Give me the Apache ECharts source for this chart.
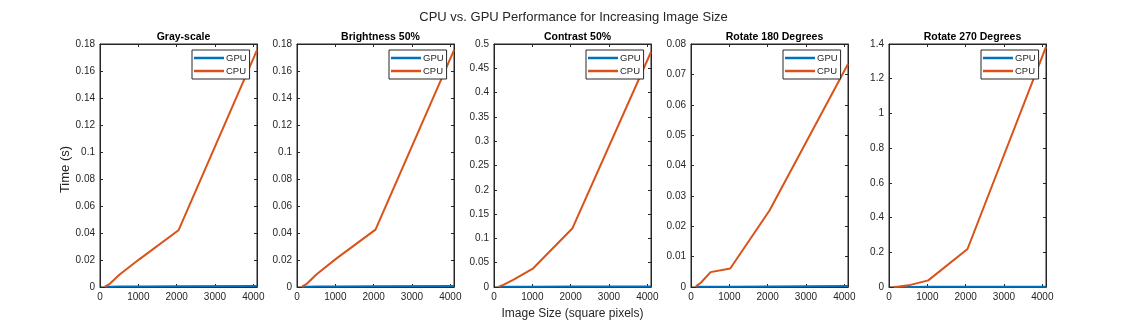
<!DOCTYPE html>
<html>
<head>
<meta charset="utf-8">
<script src="https://cdn.jsdelivr.net/npm/echarts@6/dist/echarts.min.js"></script>
<style>
  html, body { margin: 0; padding: 0; background: #fff; }
  #chart { width: 1147px; height: 328px; }
</style>
</head>
<body>
<div id="chart"></div>
<script>
// Image sizes (square pixels) measured for each operation
const sizes = [128, 256, 512, 1024, 2048, 4096];
const xTicks = [0, 1000, 2000, 3000, 4000];

const panelTitles = ['Gray-scale', 'Brightness 50%', 'Contrast 50%', 'Rotate 180 Degrees', 'Rotate 270 Degrees'];

// Run times in seconds
const grayGPU     = [0.0002, 0.0002, 0.0003, 0.0003, 0.0005, 0.0008];
const grayCPU     = [0.0003, 0.0024, 0.0093, 0.0205, 0.0420, 0.1755];
const brightGPU   = [0.0002, 0.0002, 0.0003, 0.0003, 0.0005, 0.0008];
const brightCPU   = [0.0003, 0.0024, 0.0095, 0.0210, 0.0425, 0.1755];
const contrastGPU = [0.0003, 0.0003, 0.0004, 0.0005, 0.0008, 0.0012];
const contrastCPU = [0.0008, 0.0050, 0.0150, 0.0385, 0.1210, 0.4835];
const rot180GPU   = [0.0001, 0.0001, 0.0001, 0.0001, 0.0002, 0.0003];
const rot180CPU   = [0.0002, 0.0014, 0.0049, 0.0061, 0.0252, 0.0734];
const rot270GPU   = [0.0005, 0.0005, 0.0006, 0.0008, 0.0012, 0.0020];
const rot270CPU   = [0.0005, 0.0030, 0.0095, 0.0380, 0.2190, 1.3840];

// y-axis ranges per panel: [max, interval]
const yMax      = [0.18, 0.18, 0.5, 0.08, 1.4];
const yInterval = [0.02, 0.02, 0.05, 0.01, 0.2];
const xMax = 4096;

const gpuSets = [grayGPU, brightGPU, contrastGPU, rot180GPU, rot270GPU];
const cpuSets = [grayCPU, brightCPU, contrastCPU, rot180CPU, rot270CPU];

const GPU_COLOR = '#0072BD';
const CPU_COLOR = '#D95319';
const AXIS_COLOR = '#262626';
const FONT = 'Liberation Sans, Arial, Helvetica, sans-serif';

const lefts = [100, 297, 494, 691, 889];
const plotW = 157;
const plotTop = 44;
const plotBottom = 287;
const TICK_LEN = 3;

const grids = [], xAxes = [], yAxes = [], series = [], titles = [], legends = [];

titles.push({
  text: 'CPU vs. GPU Performance for Increasing Image Size',
  left: 'center', top: 6,
  textStyle: { fontFamily: FONT, fontSize: 13, fontWeight: 'normal', color: AXIS_COLOR }
});

const pair = (xs, ys) => xs.map((x, i) => [x, ys[i]]);
const fmt = v => String(+(+v).toFixed(4));
const line = { show: true, onZero: false, lineStyle: { color: AXIS_COLOR, width: 1 } };

for (let p = 0; p < 5; p++) {
  grids.push({
    left: lefts[p], top: plotTop, width: plotW, height: plotBottom - plotTop,
    show: true, borderColor: AXIS_COLOR, borderWidth: 1, backgroundColor: '#fff'
  });

  titles.push({
    text: panelTitles[p],
    left: lefts[p] + plotW / 2, top: 27, textAlign: 'center',
    textStyle: { fontFamily: FONT, fontSize: 10.5, fontWeight: 'bold', color: '#000' }
  });

  const xi = xAxes.length;
  // bottom axis with labels
  xAxes.push({
    type: 'value', gridIndex: p, min: 0, max: xMax, position: 'bottom',
    axisLine: line,
    axisTick: { show: true, inside: true, length: TICK_LEN, customValues: xTicks, lineStyle: { color: AXIS_COLOR } },
    axisLabel: { customValues: xTicks, formatter: fmt, fontFamily: FONT, fontSize: 10, color: AXIS_COLOR, margin: 5 },
    splitLine: { show: false },
    name: p === 2 ? 'Image Size (square pixels)' : '',
    nameLocation: 'middle', nameGap: 21,
    nameTextStyle: { fontFamily: FONT, fontSize: 12, color: AXIS_COLOR }
  });
  // top mirror ticks
  xAxes.push({
    type: 'value', gridIndex: p, min: 0, max: xMax, position: 'top',
    axisLine: line,
    axisTick: { show: true, inside: true, length: TICK_LEN, customValues: xTicks, lineStyle: { color: AXIS_COLOR } },
    axisLabel: { show: false }, splitLine: { show: false }
  });

  const yi = yAxes.length;
  yAxes.push({
    type: 'value', gridIndex: p, min: 0, max: yMax[p], interval: yInterval[p], position: 'left',
    axisLine: line,
    axisTick: { show: true, inside: true, length: TICK_LEN, lineStyle: { color: AXIS_COLOR } },
    axisLabel: { fontFamily: FONT, fontSize: 10, color: AXIS_COLOR, margin: 5, formatter: fmt },
    splitLine: { show: false },
    name: p === 0 ? 'Time (s)' : '',
    nameLocation: 'middle', nameGap: 22, nameRotate: 90,
    nameTextStyle: { fontFamily: FONT, fontSize: 13, color: AXIS_COLOR, padding: [0, 8, 0, 0] }
  });
  yAxes.push({
    type: 'value', gridIndex: p, min: 0, max: yMax[p], interval: yInterval[p], position: 'right',
    axisLine: line,
    axisTick: { show: true, inside: true, length: TICK_LEN, lineStyle: { color: AXIS_COLOR } },
    axisLabel: { show: false }, splitLine: { show: false }
  });

  series.push({
    name: 'GPU', type: 'line', xAxisIndex: xi, yAxisIndex: yi,
    data: pair(sizes, gpuSets[p]), showSymbol: false, silent: true,
    lineStyle: { color: GPU_COLOR, width: 2 }, itemStyle: { color: GPU_COLOR }, z: 2
  });
  series.push({
    name: 'CPU', type: 'line', xAxisIndex: xi, yAxisIndex: yi,
    data: pair(sizes, cpuSets[p]), showSymbol: false, silent: true,
    lineStyle: { color: CPU_COLOR, width: 2 }, itemStyle: { color: CPU_COLOR }, z: 3
  });

  legends.push({
    data: ['GPU', 'CPU'], orient: 'vertical',
    left: lefts[p] + plotW - 65, top: plotTop + 6,
    icon: 'rect', itemWidth: 30, itemHeight: 2.5, itemGap: 3,
    padding: [3, 3, 3, 2],
    borderColor: AXIS_COLOR, borderWidth: 1, backgroundColor: '#fff',
    selectedMode: false,
    textStyle: { fontFamily: FONT, fontSize: 9.5, color: AXIS_COLOR, padding: [0, 0, 0, -3] }
  });
}

const chart = echarts.init(document.getElementById('chart'), null, { renderer: 'canvas' });
chart.setOption({
  animation: false,
  backgroundColor: '#fff',
  title: titles,
  legend: legends,
  grid: grids,
  xAxis: xAxes,
  yAxis: yAxes,
  series: series
});
</script>
</body>
</html>
